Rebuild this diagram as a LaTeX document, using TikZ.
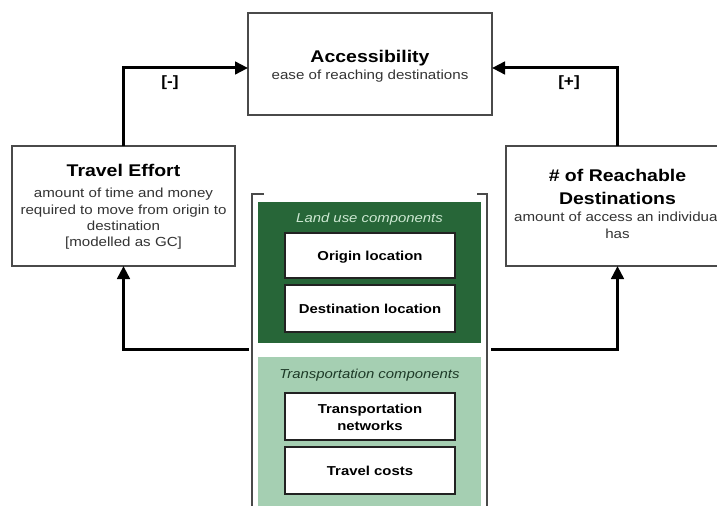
\documentclass[tikz,border=0pt]{standalone}
\usepackage{fontspec}
\setmainfont{Liberation Sans}[FakeStretch=1.15]
\usetikzlibrary{arrows.meta}

\definecolor{boxline}{HTML}{4A4A4A}
\definecolor{innerline}{HTML}{222222}
\definecolor{darkgreen}{HTML}{276638}
\definecolor{lightgreen}{HTML}{A5CFB2}
\definecolor{palegreentext}{HTML}{CDE8D2}
\definecolor{deepgreentext}{HTML}{1E3A28}
\definecolor{subtext}{HTML}{333333}

\newcommand\ttlfont{\fontsize{17}{23}\selectfont\bfseries}
\newcommand\subfont{\fontsize{13.2}{16.5}\selectfont}
\newcommand\innerfont{\fontsize{13}{17}\selectfont\bfseries}
\newcommand\groupfont{\fontsize{13}{16}\selectfont\itshape}

\begin{document}
\begin{tikzpicture}[x=1bp,y=-1bp,
  outerbox/.style={draw=boxline,line width=1.5bp,fill=white,inner sep=0pt,outer sep=0pt},
  innerbox/.style={draw=innerline,line width=1.8bp,fill=white,inner sep=0pt,outer sep=0pt,
    minimum width=170bp,minimum height=46bp},
  groupbox/.style={inner sep=0pt,outer sep=0pt,minimum width=223bp},
  ttl/.style={anchor=base,inner sep=0pt,font=\ttlfont},
  sub/.style={anchor=base,inner sep=0pt,font=\subfont,text=subtext},
  innertext/.style={anchor=base,inner sep=0pt,font=\innerfont},
  grouplabel/.style={anchor=base,inner sep=0pt,font=\groupfont},
  sign/.style={inner sep=0pt,font=\fontsize{15}{15}\selectfont\bfseries},
  flow/.style={line width=3bp,-{Triangle[length=13bp,width=12.5bp]}},
  bracket/.style={draw=boxline,line width=1.5bp}]
\useasboundingbox (0,0) rectangle (717,506);
\clip (0,0) rectangle (717,506);

% main boxes
\node[outerbox,minimum width=244bp,minimum height=102bp] (acc) at (370,64) {};
\node[outerbox,minimum width=223bp,minimum height=120bp] (travel) at (123.5,206) {};
\node[outerbox,minimum width=223bp,minimum height=120bp] (reach) at (617.5,206) {};

\node[ttl] (accT) at (370,62.5) {Accessibility};
\node[sub] (accS) at (370,80) {ease of reaching destinations};

\node[ttl] (travelT) at (123.5,176.5) {Travel Effort};
\node[sub] (travelS1) at (123.5,198) {amount of time and money};
\node[sub] (travelS2) at (123.5,214.5) {required to move from origin to};
\node[sub] (travelS3) at (123.5,231) {destination};
\node[sub] (travelS4) at (123.5,247) {[modelled as GC]};

\node[ttl] (reachT1) at (617.5,181.5) {\# of Reachable};
\node[ttl] (reachT2) at (617.5,204.5) {Destinations};
\node[sub] (reachS1) at (617.5,222) {amount of access an individual};
\node[sub] (reachS2) at (617.5,238.5) {has};

% component groups
\node[groupbox,fill=darkgreen,minimum height=141bp] (landuse) at (369.5,272.5) {};
\node[groupbox,fill=lightgreen,minimum height=173bp] (transport) at (369.5,443.5) {};
\node[grouplabel,text=palegreentext] (landuseL) at (369.5,223) {Land use components};
\node[grouplabel,text=deepgreentext] (transportL) at (369.5,378) {Transportation components};

\node[innerbox,minimum height=45bp] (origin) at (370,255.5) {};
\node[innerbox,minimum height=47bp] (dest) at (370,308.5) {};
\node[innerbox,minimum height=47bp] (tnet) at (370,416.5) {};
\node[innerbox,minimum height=47bp] (tcost) at (370,470.5) {};
\node[innertext] (originT) at (370,260.5) {Origin location};
\node[innertext] (destT) at (370,313.5) {Destination location};
\node[innertext] (tnetT1) at (370,413) {Transportation};
\node[innertext] (tnetT2) at (370,430) {networks};
\node[innertext] (tcostT) at (370,475.5) {Travel costs};

% bracket around the components
\draw[bracket] (264,194) -- (252,194) -- (252,520);
\draw[bracket] (477,194) -- (487,194) -- (487,520);
\coordinate (bl) at (249,349);
\coordinate (br) at (491,349);

% connectors
\draw[flow] (travel.north) |- ([yshift=-4bp]acc.west);
\draw[flow] (reach.north) |- ([yshift=-4bp]acc.east);
\draw[flow] (bl) -| (travel.south);
\draw[flow] (br) -| (reach.south);

\node[sign] (minus) at (170,83) {[-]};
\node[sign] (plus) at (569,83) {[+]};
\end{tikzpicture}
\end{document}
